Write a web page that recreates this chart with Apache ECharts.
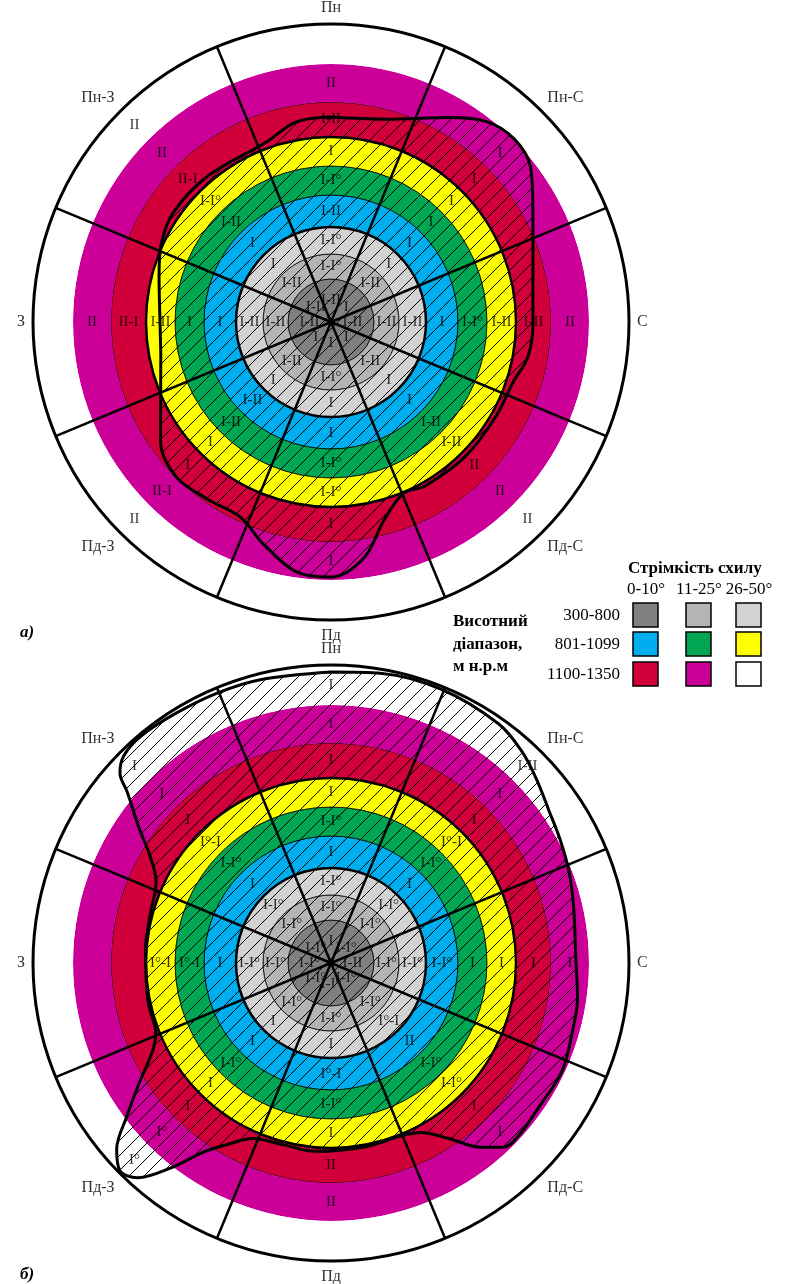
<!DOCTYPE html>
<html>
<head>
<meta charset="utf-8">
<script src="https://cdn.jsdelivr.net/npm/echarts@6/dist/echarts.min.js"></script>
<style>
html, body { margin: 0; padding: 0; background: #fff; }
#chart { width: 793px; height: 1284px; }
</style>
</head>
<body>
<div id="chart"></div>
<script>
// сектори (напрямки схилу)
const directions = ['Пн', 'Пн-С', 'С', 'Пд-С', 'Пд', 'Пд-З', 'З', 'Пн-З'];
const sectorBearings = [0, 45, 90, 135, 180, 225, 270, 315];

// зовнішні межі кілець від центру (поділки радіальної осі)
const ringEdges = [43, 68, 95, 127, 156, 185, 220, 258, 298];
const ringColors = ['#808080', '#b4b4b4', '#d2d2d2', '#00aeef', '#00a651', '#ffff00', '#d2003a', '#cc0099', '#ffffff'];
const boldEdges = [95, 185];

// легенда
const slopeClasses = ['0-10°', '11-25°', '26-50°'];
const altitudeClasses = ['300-800', '801-1099', '1100-1350'];

// підписи: по кільцях (від центру), у кожному — сектори Пн ... Пн-З
const labelsA = [
  ['I-II', 'I', 'I-II', 'I', 'I', 'I', 'I-II', 'I-II'],
  ['I-I°', 'I-II', 'I-II', 'I-II', 'I-I°', 'I-II', 'I-II', 'I-II'],
  ['I-I°', 'I', 'I-II', 'I', 'I', 'I', 'I-II', 'I'],
  ['I-II', 'I', 'I', 'I', 'I', 'I-II', 'I', 'I'],
  ['I-I°', 'I', 'I-I°', 'I-II', 'I-I°', 'I-II', 'I', 'I-II'],
  ['I', 'I', 'I-II', 'I-II', 'I-I°', 'I', 'I-II', 'I-I°'],
  ['I-II', 'I', 'I-II', 'II', 'I', 'I', 'II-I', 'II-I'],
  ['II', 'I', 'II', 'II', 'I', 'II-I', 'II', 'II'],
  ['', '', '', 'II', '', 'II', '', 'II']
];
const labelsB = [
  ['I', 'I-I°', 'I-II', 'I-I°', 'I-I°', 'I-I°', 'I-I°', 'I-I°'],
  ['I-I°', 'I-I°', 'I-I°', 'I-I°', 'I-I°', 'I-I°', 'I-I°', 'I-I°'],
  ['I-I°', 'I-I°', 'I-I°', 'I°-I', 'I', 'I', 'I-I°', 'I-I°'],
  ['I', 'I', 'I-I°', 'II', 'I°-I', 'I', 'I', 'I'],
  ['I-I°', 'I-I°', 'I', 'I-I°', 'I-I°', 'I-I°', 'I°-I', 'I-I°'],
  ['I', 'I°-I', 'I', 'I-I°', 'I', 'I', 'I°-I', 'I°-I'],
  ['I', 'I', 'I', 'I', 'II', 'I', '', 'I'],
  ['I', 'I', 'I', 'I', 'II', 'I°', '', 'I'],
  ['I', 'I-II', '', '', '', 'I°', '', 'I']
];

// контур заштрихованої ділянки: [азимут, радіус]
const curveA = [
  [0, 205], [15, 210], [30, 236], [38, 254], [45, 259], [52, 253], [60, 233],
  [70, 215], [80, 205], [90, 202], [100, 200], [108, 192], [120, 190], [135, 190],
  [150, 189], [157, 186], [165, 205], [172, 238], [180, 255], [188, 252], [197, 232],
  [205, 215], [215, 216], [225, 219], [235, 208], [245, 188], [258, 174], [270, 171],
  [285, 178], [295, 187], [305, 192], [320, 191], [340, 191], [350, 203], [360, 205]
];
const curveB = [
  [0, 291], [10, 294], [22, 295], [35, 292], [42, 285], [48, 276], [55, 266],
  [62, 260], [69, 255], [77, 249], [90, 245], [98, 249], [106, 251], [115, 255],
  [125, 253], [133, 255], [137, 252], [141, 237], [146, 212], [152, 192], [157, 187],
  [170, 187], [185, 189], [195, 188], [204, 192], [210, 210], [214, 228], [218, 260],
  [222, 289], [225.5, 296], [229, 284], [233, 256], [238, 226], [244, 198], [248, 189],
  [258, 187], [274, 186], [284, 187], [295, 193], [301, 212], [305, 234], [310, 266],
  [312, 284], [315, 293], [320, 296], [328, 294], [337, 293], [346, 292], [360, 291]
];

const SERIF = "'Liberation Serif', 'DejaVu Serif', serif";

function makeHatch() {
  const s = 15;
  const cv = document.createElement('canvas');
  cv.width = s; cv.height = s;
  const ctx = cv.getContext('2d');
  ctx.strokeStyle = '#000';
  ctx.lineWidth = 1;
  ctx.beginPath();
  ctx.moveTo(-1, s + 1); ctx.lineTo(s + 1, -1);
  ctx.moveTo(-1, 1); ctx.lineTo(1, -1);
  ctx.moveTo(s - 1, s + 1); ctx.lineTo(s + 1, s - 1);
  ctx.stroke();
  return cv;
}
const hatch = makeHatch();

function pxRadius(api, r) {
  const c = api.coord([0, 0]);
  const p = api.coord([r, 0]);
  return [c, Math.hypot(p[0] - c[0], p[1] - c[1])];
}

function chartSeries(polarIndex, labels, curve) {
  const labelData = [];
  labels.forEach((row, i) => {
    const mid = ((i ? ringEdges[i - 1] : 0) + ringEdges[i]) / 2;
    row.forEach((t, j) => {
      if (t) labelData.push({ name: t, value: [mid, sectorBearings[j]] });
    });
  });
  return [
    {
      type: 'custom', coordinateSystem: 'polar', polarIndex, z: 1, silent: true,
      data: ringEdges.map((r, i) => [r, i]),
      renderItem(params, api) {
        const i = api.value(1);
        const [c, r] = pxRadius(api, api.value(0));
        const r0 = i ? pxRadius(api, ringEdges[i - 1])[1] : 0;
        return {
          type: 'ring',
          shape: { cx: c[0], cy: c[1], r, r0 },
          style: { fill: ringColors[i], stroke: i < 7 ? '#000' : null, lineWidth: 0.8 }
        };
      }
    },
    {
      type: 'line', coordinateSystem: 'polar', polarIndex, z: 2, silent: true,
      smooth: 0.35, symbol: 'none',
      data: curve.map(([b, r]) => [r, b]),
      lineStyle: { color: '#000', width: 3 },
      areaStyle: { color: { image: hatch, repeat: 'repeat' }, opacity: 1 }
    },
    {
      type: 'custom', coordinateSystem: 'polar', polarIndex, z: 3, silent: true,
      data: boldEdges.map(r => [r, 0]),
      renderItem(params, api) {
        const [c, r] = pxRadius(api, api.value(0));
        return {
          type: 'circle',
          shape: { cx: c[0], cy: c[1], r },
          style: { fill: 'transparent', stroke: '#000', lineWidth: 2.5 }
        };
      }
    },
    {
      type: 'scatter', coordinateSystem: 'polar', polarIndex, z: 6, silent: true,
      symbolSize: 1, itemStyle: { color: 'transparent' },
      data: labelData,
      label: {
        show: true, position: 'inside', formatter: p => p.name,
        fontFamily: SERIF, fontSize: 15, color: '#000'
      }
    }
  ];
}

const centers = [[331, 322], [331, 963]];

const polar = [];
const angleAxis = [];
const radiusAxis = [];
centers.forEach((c, k) => {
  polar.push({ center: c, radius: 298 }, { center: c, radius: 298 });
  angleAxis.push(
    {
      polarIndex: k * 2, type: 'category', data: directions,
      startAngle: 112.5, clockwise: true, z: 4,
      axisLine: { lineStyle: { color: '#000', width: 3 } },
      axisTick: { show: false },
      splitLine: { show: true, lineStyle: { color: '#000', width: 2.5 } },
      axisLabel: { fontFamily: SERIF, fontSize: 16, color: '#333', margin: 8 }
    },
    { polarIndex: k * 2 + 1, type: 'value', min: 0, max: 360, startAngle: 90, clockwise: true, show: false }
  );
  radiusAxis.push(
    { polarIndex: k * 2, type: 'value', min: 0, max: 298, show: false },
    { polarIndex: k * 2 + 1, type: 'value', min: 0, max: 298, show: false }
  );
});

// легенда та підписи панелей
const graphic = [];
function txt(text, x, y, font, align) {
  graphic.push({
    type: 'text', z: 10, silent: true,
    style: { text, x, y, font, fill: '#000', textAlign: align || 'left', verticalAlign: 'middle', textVerticalAlign: 'middle' }
  });
}
const legendFont = '17px ' + SERIF;
const legendBold = 'bold 17px ' + SERIF;
txt('Стрімкість схилу', 628, 569, legendBold);
const colX = [633, 686, 736];
const rowY = [603, 632, 662];
slopeClasses.forEach((s, j) => txt(s, colX[j] + 13, 590, legendFont, 'center'));
altitudeClasses.forEach((a, i) => {
  txt(a, 620, rowY[i] + 13, legendFont, 'right');
  slopeClasses.forEach((s, j) => {
    graphic.push({
      type: 'rect', z: 10, silent: true,
      shape: { x: colX[j], y: rowY[i], width: 25, height: 24 },
      style: { fill: ringColors[i * 3 + j], stroke: '#000', lineWidth: 1.5 }
    });
  });
});
txt('Висотний', 453, 622, legendBold);
txt('діапазон,', 453, 645, legendBold);
txt('м н.р.м', 453, 667, legendBold);
txt('а)', 20, 633, 'italic bold 17px ' + SERIF);
txt('б)', 20, 1275, 'italic bold 17px ' + SERIF);

const myChart = echarts.init(document.getElementById('chart'));
myChart.setOption({
  animation: false,
  polar,
  angleAxis,
  radiusAxis,
  series: [
    ...chartSeries(1, labelsA, curveA),
    ...chartSeries(3, labelsB, curveB)
  ],
  graphic
});
</script>
</body>
</html>
